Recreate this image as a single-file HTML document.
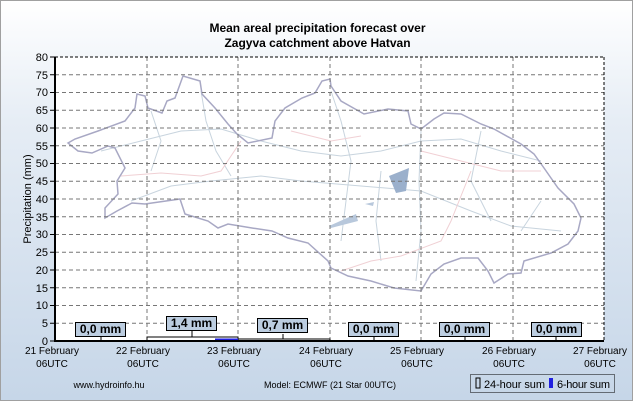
<!DOCTYPE html>
<html><head><style>
body{margin:0}
.c{position:relative;width:631px;height:399px;border:1px solid #a0a0a0;background:linear-gradient(#ffffff 0%,#e6edf5 30%,#c6d6e8 100%);font-family:"Liberation Sans",sans-serif;overflow:hidden}
.t{position:absolute;font-size:11px;color:#000}
.box{position:absolute;height:13px;width:49px;border:1px solid #000;background:#bccde0;font-size:12px;font-weight:bold;text-align:center;line-height:13px}
</style></head><body>
<div class="c">
<div class="t" style="left:0;width:633px;top:20px;text-align:center;font-weight:bold;font-size:12px;line-height:15px">Mean areal precipitation forecast over<br>Zagyva catchment above Hatvan</div>
<svg style="position:absolute;left:0;top:0" width="633" height="401">
<rect x="54" y="56" width="549" height="284" fill="#fff"/>
<g fill="none" stroke="#c8d4de" stroke-width="1">
<path d="M100,150 L140,140 L180,130 L220,128 L260,140 L300,150 L340,155 L380,150 L420,140 L460,138 L500,150 L540,160"/>
<path d="M130,200 L170,185 L210,180 L260,175 L300,180 L360,185 L420,190 L470,210 L510,225 L560,230"/>
<path d="M150,110 L160,140 L150,170 M200,90 L205,120 L215,150 L230,175 M330,90 L340,120 L350,160 L345,200 L340,240 M380,170 L375,220 L380,260 M420,130 L418,180 L420,230 L415,280 M480,130 L470,180 L490,220 M540,200 L520,230"/>
</g>
<g fill="none" stroke="#f0d0d4" stroke-width="1">
<path d="M120,175 L160,172 L200,175 L220,170 L240,140 M290,130 L330,140 L360,135 M420,150 L460,160 L500,170 L540,170 M470,170 L450,220 L440,240 L400,255 L370,260 L340,270"/>
</g>
<path d="M67,142 L74,138 L97,130 L124,120 L134,107 L136,93 L144,95 L147,107 L161,112 L166,100 L174,97 L182,75 L199,80 L201,93 L214,107 L227,123 L236,133 L247,142 L271,137 L274,120 L284,107 L301,97 L314,92 L321,80 L329,78 L330,85 L340,100 L363,113 L387,108 L407,110 L410,123 L420,128 L433,118 L443,112 L460,113 L480,123 L493,128 L520,143 L533,153 L543,167 L557,187 L573,203 L580,217 L577,230 L567,243 L550,252 L523,260 L520,272 L507,273 L493,282 L487,270 L477,257 L460,257 L443,263 L430,273 L420,290 L393,287 L370,280 L347,275 L330,267 L327,260 L307,242 L287,237 L271,230 L251,227 L227,223 L217,227 L207,220 L184,213 L179,198 L144,203 L131,202 L116,210 L104,217 L104,207 L117,193 L116,180 L124,167 L114,147 L107,145 L91,152 L77,150 Z" fill="none" stroke="#a8a8c4" stroke-width="1.5"/>
<path d="M388,175 L408,167 L405,190 L395,192 Z" fill="#9bb0cc"/>
<path d="M328,225 L355,213 L357,220 L330,227 Z" fill="#b8c8dc"/>
<path d="M364,203 L373,201 L372,205 Z" fill="#b8c8dc"/>
<g stroke="#777" stroke-dasharray="4,3" stroke-width="1">
<line x1="54" x2="603" y1="73.75" y2="73.75"/><line x1="54" x2="603" y1="91.5" y2="91.5"/><line x1="54" x2="603" y1="109.25" y2="109.25"/><line x1="54" x2="603" y1="127" y2="127"/><line x1="54" x2="603" y1="144.75" y2="144.75"/><line x1="54" x2="603" y1="162.5" y2="162.5"/><line x1="54" x2="603" y1="180.25" y2="180.25"/><line x1="54" x2="603" y1="198" y2="198"/><line x1="54" x2="603" y1="215.75" y2="215.75"/><line x1="54" x2="603" y1="233.5" y2="233.5"/><line x1="54" x2="603" y1="251.25" y2="251.25"/><line x1="54" x2="603" y1="269" y2="269"/><line x1="54" x2="603" y1="286.75" y2="286.75"/><line x1="54" x2="603" y1="304.5" y2="304.5"/><line x1="54" x2="603" y1="322.25" y2="322.25"/>
<line y1="56" y2="340" x1="146" x2="146"/><line y1="56" y2="340" x1="237" x2="237"/><line y1="56" y2="340" x1="329" x2="329"/><line y1="56" y2="340" x1="420" x2="420"/><line y1="56" y2="340" x1="512" x2="512"/>
</g>
<g stroke="#000" stroke-dasharray="3,2"><line x1="54" x2="603" y1="56" y2="56"/><line x1="603" x2="603" y1="56" y2="340"/></g>
<rect x="146" y="336" width="91" height="4" fill="#fff" stroke="#000"/>
<rect x="237" y="338" width="92" height="2" fill="#fff" stroke="#000"/>
<rect x="214" y="337.5" width="23" height="2.5" fill="#2020e0"/>
<line x1="54" x2="54" y1="56" y2="341" stroke="#000" stroke-width="2"/>
<line x1="54" x2="603" y1="340" y2="340" stroke="#000" stroke-width="2"/>
<g stroke="#000"><line x1="49" x2="54" y1="56" y2="56"/><line x1="49" x2="54" y1="73.75" y2="73.75"/><line x1="49" x2="54" y1="91.5" y2="91.5"/><line x1="49" x2="54" y1="109.25" y2="109.25"/><line x1="49" x2="54" y1="127" y2="127"/><line x1="49" x2="54" y1="144.75" y2="144.75"/><line x1="49" x2="54" y1="162.5" y2="162.5"/><line x1="49" x2="54" y1="180.25" y2="180.25"/><line x1="49" x2="54" y1="198" y2="198"/><line x1="49" x2="54" y1="215.75" y2="215.75"/><line x1="49" x2="54" y1="233.5" y2="233.5"/><line x1="49" x2="54" y1="251.25" y2="251.25"/><line x1="49" x2="54" y1="269" y2="269"/><line x1="49" x2="54" y1="286.75" y2="286.75"/><line x1="49" x2="54" y1="304.5" y2="304.5"/><line x1="49" x2="54" y1="322.25" y2="322.25"/><line x1="49" x2="54" y1="340" y2="340"/>
<line x1="100" x2="100" y1="336" y2="340"/><line x1="191" x2="191" y1="330" y2="336"/><line x1="282" x2="282" y1="333" y2="338"/><line x1="373" x2="373" y1="336" y2="340"/><line x1="464" x2="464" y1="336" y2="340"/><line x1="555" x2="555" y1="336" y2="340"/></g>
<g font-family="Liberation Sans" font-size="11" text-anchor="end">
<text x="47" y="60">80</text><text x="47" y="78">75</text><text x="47" y="95">70</text><text x="47" y="113">65</text><text x="47" y="131">60</text><text x="47" y="149">55</text><text x="47" y="166">50</text><text x="47" y="184">45</text><text x="47" y="202">40</text><text x="47" y="220">35</text><text x="47" y="237">30</text><text x="47" y="255">25</text><text x="47" y="273">20</text><text x="47" y="291">15</text><text x="47" y="308">10</text><text x="47" y="326">5</text><text x="47" y="344">0</text>
</g>
<text transform="translate(30,198) rotate(-90)" font-family="Liberation Sans" font-size="11" text-anchor="middle">Precipitation (mm)</text>
<g font-family="Liberation Sans" font-size="10" text-anchor="middle">
<text x="51" y="353">21 February</text><text x="51" y="366">06UTC</text>
<text x="142" y="353">22 February</text><text x="142" y="366">06UTC</text>
<text x="233" y="353">23 February</text><text x="233" y="366">06UTC</text>
<text x="325" y="353">24 February</text><text x="325" y="366">06UTC</text>
<text x="416" y="353">25 February</text><text x="416" y="366">06UTC</text>
<text x="508" y="353">26 February</text><text x="508" y="366">06UTC</text>
<text x="599" y="353">27 February</text><text x="599" y="366">06UTC</text>
<text x="108" y="387" font-size="9">www.hydroinfo.hu</text>
<text x="329" y="387" font-size="9">Model: ECMWF (21  Star 00UTC)</text>
</g>
<rect x="469.5" y="373.5" width="144" height="18" fill="none" stroke="#000" stroke-dasharray="1,1"/>
<rect x="475" y="377" width="4" height="10" fill="none" stroke="#000"/>
<rect x="548" y="377" width="4" height="10" fill="#2020e0"/>
<text x="483" y="387" font-family="Liberation Sans" font-size="11" textLength="61">24-hour sum</text>
<text x="556" y="387" font-family="Liberation Sans" font-size="11" textLength="53">6-hour sum</text>
</svg>
<div class="box" style="left:74px;top:321px">0,0 mm</div>
<div class="box" style="left:165px;top:315px">1,4 mm</div>
<div class="box" style="left:256px;top:317px">0,7 mm</div>
<div class="box" style="left:347px;top:321px">0,0 mm</div>
<div class="box" style="left:438px;top:321px">0,0 mm</div>
<div class="box" style="left:530px;top:321px">0,0 mm</div>
</div>
</body></html>
